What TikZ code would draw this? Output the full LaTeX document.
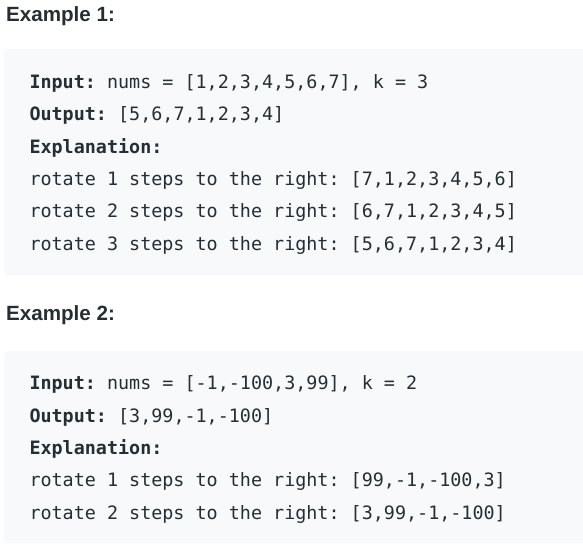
\documentclass[tikz,border=0pt]{standalone}
\usepackage{fontspec}
\setmainfont{Liberation Sans}
\setmonofont{DejaVu Sans Mono}
\usepackage{tikz}
\usetikzlibrary{positioning}
\definecolor{codetext}{RGB}{38,46,52}
\definecolor{codebg}{RGB}{247,249,250}
\tikzset{headnode/.style={anchor=base west, inner sep=0pt, text=codetext, font=\fontsize{20.6}{24}\selectfont\bfseries}}
\tikzset{codenode/.style={anchor=base west, inner sep=0pt, text=codetext, font=\fontsize{18.4}{22}\selectfont\ttfamily}}
\tikzset{codebox/.style={fill=codebg, rounded corners=4pt}}
\tikzset{nextline/.style={below=32.4pt of #1.base west, anchor=base west}}

\begin{document}
\begin{tikzpicture}[x=1pt,y=-1pt]
\useasboundingbox (0,0) rectangle (583,546);
%Boxes
\fill[codebox] (4,49) rectangle (600,275.5);
\fill[codebox] (4,351) rectangle (600,543);
%Nodes
\node[headnode]   (head1)                    at (6,21)       {Example 1:};
\node[codenode]   (in1)                      at (29.3,88.3)  {\textbf{Input:} nums = [1,2,3,4,5,6,7], k = 3};
\node[codenode]   (out1)   [nextline=in1]                    {\textbf{Output:} [5,6,7,1,2,3,4]};
\node[codenode]   (expl1)  [nextline=out1]                   {\textbf{Explanation:}};
\node[codenode]   (rotA1)  [nextline=expl1]                  {rotate 1 steps to the right: [7,1,2,3,4,5,6]};
\node[codenode]   (rotA2)  [nextline=rotA1]                  {rotate 2 steps to the right: [6,7,1,2,3,4,5]};
\node[codenode]   (rotA3)  [nextline=rotA2]                  {rotate 3 steps to the right: [5,6,7,1,2,3,4]};
\node[headnode]   (head2)                    at (6,320)      {Example 2:};
\node[codenode]   (in2)                      at (29.3,389.7) {\textbf{Input:} nums = [-1,-100,3,99], k = 2};
\node[codenode]   (out2)   [nextline=in2]                    {\textbf{Output:} [3,99,-1,-100]};
\node[codenode]   (expl2)  [nextline=out2]                   {\textbf{Explanation:}};
\node[codenode]   (rotB1)  [nextline=expl2]                  {rotate 1 steps to the right: [99,-1,-100,3]};
\node[codenode]   (rotB2)  [nextline=rotB1]                  {rotate 2 steps to the right: [3,99,-1,-100]};
\end{tikzpicture}
\end{document}
